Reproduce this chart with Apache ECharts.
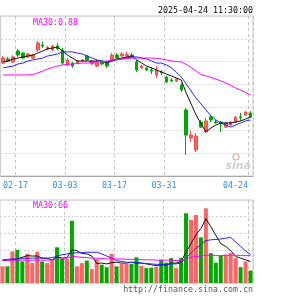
<!DOCTYPE html>
<html>
<head>
<meta charset="utf-8">
<script src="https://cdn.jsdelivr.net/npm/echarts@6/dist/echarts.min.js"></script>
<style>
  html, body { margin: 0; padding: 0; background: #fff; }
  #chart { width: 300px; height: 300px; }
</style>
</head>
<body>
<div id="chart"></div>
<script>
// trading days shown (first one is cut by the left edge)
const dates = ['02-12','02-13','02-14','02-17','02-18','02-19','02-20','02-21','02-24','02-25',
  '02-26','02-27','02-28','03-03','03-04','03-05','03-06','03-07','03-10','03-11',
  '03-12','03-13','03-14','03-17','03-18','03-19','03-20','03-21','03-24','03-25',
  '03-26','03-27','03-28','03-31','04-01','04-02','04-03','04-07','04-08','04-09',
  '04-10','04-11','04-14','04-15','04-16','04-17','04-18','04-21','04-22','04-23','04-24'];

const openP = [0.8894,0.8912,0.8899,0.8947,0.8938,0.8921,0.8916,0.8951,0.8973,0.8956,
  0.8951,0.8969,0.8951,0.8886,0.8894,0.8894,0.8903,0.8925,0.8890,0.8881,
  0.8899,0.8894,0.8908,0.8929,0.8925,0.8927,0.8929,0.8899,0.8873,0.8873,
  0.8864,0.8842,0.8855,0.8833,0.8820,0.8816,0.8798,0.8689,0.8566,0.8514,
  0.8636,0.8593,0.8658,0.8636,0.8636,0.8614,0.8623,0.8636,0.8658,0.8667,0.8676];
const closeP = [0.8916,0.8903,0.8921,0.8929,0.8916,0.8934,0.8929,0.8982,0.8969,0.8964,
  0.8969,0.8956,0.8894,0.8908,0.8881,0.8903,0.8908,0.8908,0.8903,0.8899,
  0.8890,0.8881,0.8929,0.8916,0.8934,0.8932,0.8921,0.8864,0.8881,0.8864,
  0.8859,0.8864,0.8851,0.8811,0.8816,0.8824,0.8776,0.8579,0.8579,0.8575,
  0.8614,0.8641,0.8645,0.8634,0.8628,0.8632,0.8636,0.8658,0.8654,0.8680,0.8658];
const lowP = [0.8890,0.8899,0.8894,0.8921,0.8912,0.8916,0.8912,0.8943,0.8960,0.8951,
  0.8947,0.8951,0.8886,0.8881,0.8873,0.8890,0.8899,0.8903,0.8886,0.8877,
  0.8886,0.8873,0.8903,0.8912,0.8921,0.8916,0.8916,0.8855,0.8868,0.8859,
  0.8846,0.8829,0.8842,0.8807,0.8811,0.8811,0.8768,0.8492,0.8549,0.8505,
  0.8610,0.8588,0.8636,0.8628,0.8593,0.8610,0.8619,0.8632,0.8641,0.8663,0.8654];
const highP = [0.8925,0.8921,0.8929,0.8956,0.8943,0.8938,0.8934,0.8991,0.8986,0.8969,
  0.8973,0.8982,0.8960,0.8916,0.8899,0.8908,0.8912,0.8929,0.8908,0.8908,
  0.8903,0.8903,0.8938,0.8938,0.8943,0.8943,0.8938,0.8908,0.8886,0.8877,
  0.8877,0.8881,0.8864,0.8838,0.8829,0.8829,0.8807,0.8698,0.8597,0.8588,
  0.8645,0.8654,0.8667,0.8645,0.8641,0.8636,0.8641,0.8663,0.8676,0.8684,0.8684];

// moving averages as drawn on the price pane
const ma5 = [0.8899,0.8903,0.8912,0.8916,0.8921,0.8925,0.8929,0.8938,0.8947,0.8956,
  0.8960,0.8964,0.8947,0.8929,0.8916,0.8903,0.8903,0.8903,0.8903,0.8903,
  0.8903,0.8894,0.8903,0.8912,0.8916,0.8921,0.8925,0.8908,0.8894,0.8881,
  0.8873,0.8864,0.8855,0.8846,0.8838,0.8829,0.8820,0.8763,0.8715,0.8667,
  0.8628,0.8593,0.8610,0.8623,0.8632,0.8632,0.8632,0.8636,0.8641,0.8649,0.8658];
const ma10 = [0.8873,0.8877,0.8881,0.8890,0.8894,0.8903,0.8908,0.8912,0.8916,0.8925,
  0.8929,0.8934,0.8943,0.8943,0.8943,0.8938,0.8934,0.8925,0.8916,0.8908,
  0.8903,0.8899,0.8903,0.8908,0.8912,0.8916,0.8921,0.8921,0.8916,0.8912,
  0.8903,0.8894,0.8894,0.8886,0.8873,0.8855,0.8833,0.8803,0.8772,0.8741,
  0.8715,0.8689,0.8663,0.8645,0.8632,0.8623,0.8614,0.8623,0.8632,0.8641,0.8645];
const ma30 = [0.8842,0.8842,0.8842,0.8842,0.8842,0.8842,0.8844,0.8851,0.8859,0.8868,
  0.8875,0.8881,0.8886,0.8888,0.8890,0.8892,0.8894,0.8894,0.8897,0.8899,
  0.8901,0.8903,0.8908,0.8910,0.8912,0.8914,0.8916,0.8916,0.8916,0.8916,
  0.8916,0.8914,0.8912,0.8908,0.8903,0.8901,0.8899,0.8888,0.8875,0.8859,
  0.8844,0.8838,0.8831,0.8824,0.8816,0.8807,0.8796,0.8785,0.8776,0.8765,0.8754];

const vols = [40,40,76,80,52,70,48,75,52,48,56,86,58,58,150,40,48,54,34,58,
  44,38,70,40,46,46,46,62,41,36,37,39,56,49,60,36,60,168,152,164,
  110,180,72,49,66,68,72,60,38,52,30];
const volMa5 = [54,55,56,58,62,66,65,65,60,59,56,63,60,61,80,78,71,70,65,47,
  48,46,49,50,48,48,50,48,48,46,44,42,44,43,48,48,52,74,95,116,
  131,155,136,115,95,88,78,64,60,56,52];
const volMa10 = [56,57,58,58,59,60,60,60,60,60,61,65,68,70,72,73,73,74,74,74,
  70,65,60,54,52,50,50,50,48,47,46,45,45,45,46,46,48,60,72,84,
  92,102,104,105,106,108,110,99,88,77,69];
const volMa30 = [55,55,55,55,55,55,55,55,55,55,56,57,58,60,64,63,62,61,60,60,
  59,58,58,58,58,57,57,57,56,56,56,55,55,55,55,54,54,58,62,64,
  65,67,67,66,66,67,67,67,66,66,66];

// dates that get a label and a dashed line
const labelDates = ['02-17', '03-03', '03-17', '03-31', '04-24'];
const stamp = '2025-04-24 11:30:00';
const site = 'http://finance.sina.com.cn';

const UP = '#ff6464', DOWN = '#00a800';
const MONO = '"DejaVu Sans Mono", "Liberation Mono", monospace';
const FS = 8.3;
const marked = (i) => labelDates.indexOf(dates[i]) >= 0;
const last = dates.length - 1;

const candleData = dates.map((d, i) => [openP[i], closeP[i], lowP[i], highP[i]]);
const volData = vols.map((v, i) => ({
  value: v,
  itemStyle: { color: closeP[i] >= openP[i] ? UP : DOWN }
}));

const vLine = { show: true, interval: (i) => marked(i), lineStyle: { color: '#c4c4c4', type: [3, 3], width: 1 } };
const hLine = { show: true, lineStyle: { color: '#d4d4d4', type: [2, 2], width: 1 } };

function line(name, data, color, ax) {
  return {
    name, type: 'line', data, xAxisIndex: ax, yAxisIndex: ax,
    symbol: 'none', smooth: false, z: 5,
    lineStyle: { color, width: 1 }
  };
}

const chart = echarts.init(document.getElementById('chart'));
chart.setOption({
  animation: false,
  grid: [
    { left: -2, width: 255, top: 16, height: 160, show: true, borderColor: '#c8c8c8', borderWidth: 1 },
    { left: -2, width: 255, top: 200, height: 83, show: true, borderColor: '#c8c8c8', borderWidth: 1 }
  ],
  xAxis: [
    {
      type: 'category', data: dates, gridIndex: 0, boundaryGap: true,
      axisLine: { show: true, lineStyle: { color: '#a8a8a8' } },
      axisTick: { show: false },
      splitLine: vLine,
      axisLabel: {
        interval: (i) => marked(i),
        margin: 4,
        formatter: (v, i) => i === last ? '{t|' + v + '}{end| }' : '{t|' + v + '}{gap| }',
        rich: {
          t: { color: '#2f8ee0', fontFamily: MONO, fontSize: FS },
          gap: { width: 5 },
          end: { width: 30 }
        }
      }
    },
    {
      type: 'category', data: dates, gridIndex: 1, boundaryGap: true,
      axisLine: { show: false }, axisTick: { show: false }, axisLabel: { show: false },
      splitLine: vLine
    }
  ],
  yAxis: [
    {
      type: 'value', gridIndex: 0, min: 0.84, max: 0.91, interval: 0.01,
      axisLine: { show: false }, axisTick: { show: false }, axisLabel: { show: false },
      splitLine: hLine
    },
    {
      type: 'value', gridIndex: 1, min: 0, max: 200, interval: 40,
      axisLine: { show: false }, axisTick: { show: false }, axisLabel: { show: false },
      splitLine: hLine
    }
  ],
  series: [
    {
      type: 'candlestick', data: candleData, xAxisIndex: 0, yAxisIndex: 0,
      barWidth: 3,
      itemStyle: { color: UP, color0: DOWN, borderColor: '#f24c4c', borderColor0: DOWN, borderWidth: 1 }
    },
    line('MA5', ma5, '#111111', 0),
    line('MA10', ma10, '#2323ff', 0),
    line('MA30', ma30, '#ff00ff', 0),
    {
      type: 'bar', data: volData, xAxisIndex: 1, yAxisIndex: 1, barWidth: 4
    },
    line('VMA5', volMa5, '#111111', 1),
    line('VMA10', volMa10, '#2323ff', 1),
    line('VMA30', volMa30, '#ff00ff', 1)
  ],
  graphic: [
    { type: 'text', x: 253, y: 10.5, z: 20,
      style: { text: stamp, align: 'right', verticalAlign: 'middle', fill: '#000', fontFamily: MONO, fontSize: FS } },
    { type: 'text', x: 33, y: 22.5, z: 20,
      style: { text: 'MA30:' + ma30[last].toFixed(2), align: 'left', verticalAlign: 'middle', fill: '#ff00ff', fontFamily: MONO, fontSize: FS } },
    { type: 'text', x: 33, y: 205.5, z: 20,
      style: { text: 'MA30:' + volMa30[last], align: 'left', verticalAlign: 'middle', fill: '#ff00ff', fontFamily: MONO, fontSize: FS } },
    { type: 'text', x: 253, y: 289.5, z: 20,
      style: { text: site, align: 'right', verticalAlign: 'middle', fill: '#555', fontFamily: MONO, fontSize: FS } },
    { type: 'circle', z: 1, shape: { cx: 236, cy: 157, r: 3 },
      style: { fill: 'none', stroke: '#e9a9a9', lineWidth: 1.2 } },
    { type: 'text', x: 251, y: 166, z: 1,
      style: { text: 'sina', align: 'right', verticalAlign: 'middle', fill: '#cfcfcf',
        fontFamily: '"DejaVu Sans", sans-serif', fontStyle: 'italic', fontWeight: 'bold', fontSize: 11 } }
  ]
});
</script>
</body>
</html>
